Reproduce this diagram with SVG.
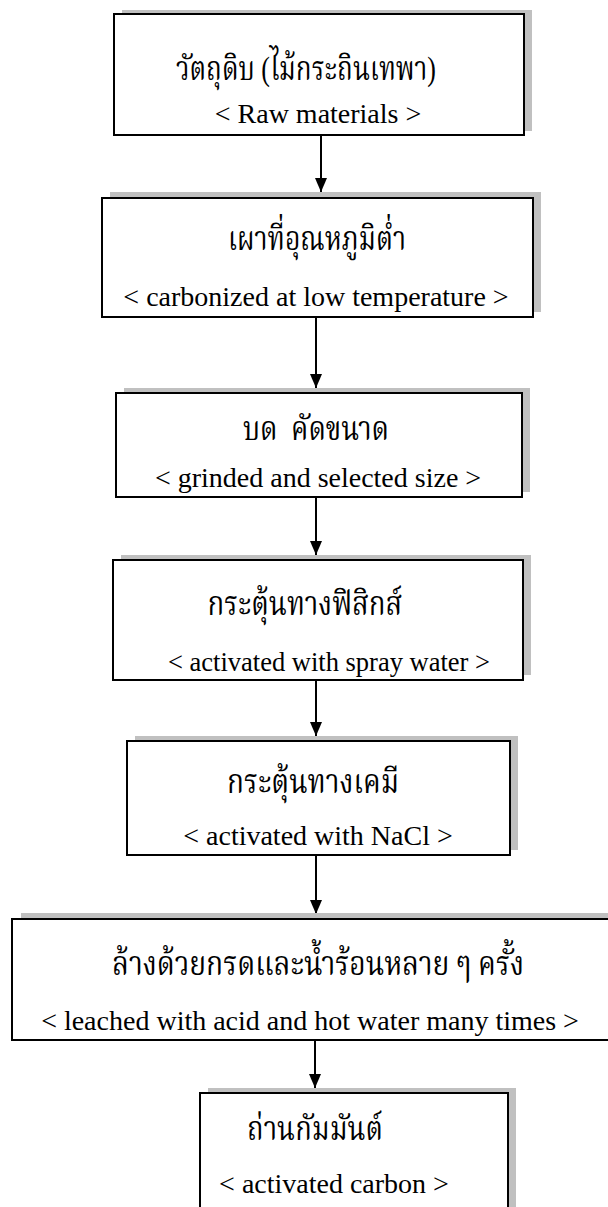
<svg xmlns="http://www.w3.org/2000/svg" width="608" height="1207" viewBox="0 0 608 1207">
<style>
.bg{fill:#ffffff}
.sh{fill:#c0c0c0}
.box{fill:#ffffff;stroke:#000000;stroke-width:2}
.th{font-family:"Liberation Serif","Norasi","Noto Serif Thai","Noto Sans Thai","Tlwg Typo",serif;font-size:34px;fill:#000;text-anchor:middle}
.en{font-family:"Liberation Serif","Times New Roman",serif;font-size:28px;fill:#000;text-anchor:middle}
.ln{stroke:#000;stroke-width:2;fill:none}
</style>
<defs>
<marker id="ah" viewBox="0 0 14 12" refX="14" refY="6" markerWidth="14" markerHeight="12" markerUnits="userSpaceOnUse" orient="auto">
<path d="M0,0 L14,6 L0,12 Z" fill="#000"/>
</marker>
</defs>
<rect class="bg" x="0" y="0" width="608" height="1207"/>

<g id="connectors">
<line class="ln" x1="321" y1="135" x2="321" y2="192" marker-end="url(#ah)"/>
<line class="ln" x1="316" y1="317" x2="316" y2="388" marker-end="url(#ah)"/>
<line class="ln" x1="316" y1="497" x2="316" y2="555" marker-end="url(#ah)"/>
<line class="ln" x1="316" y1="680" x2="316" y2="736" marker-end="url(#ah)"/>
<line class="ln" x1="316" y1="855" x2="316" y2="914" marker-end="url(#ah)"/>
<line class="ln" x1="315" y1="1040" x2="315" y2="1088" marker-end="url(#ah)"/>
</g>

<g id="n1">
<rect class="sh" x="122" y="10" width="410" height="121"/>
<rect class="box" x="114" y="14" width="410" height="121"/>
<text class="th" x="306" y="80" textLength="260" lengthAdjust="spacingAndGlyphs">วัตถุดิบ (ไม้กระถินเทพา)</text>
<text class="en" x="318" y="123">&lt; Raw materials &gt;</text>
</g>

<g id="n2">
<rect class="sh" x="110" y="192" width="431" height="120"/>
<rect class="box" x="102" y="198" width="431" height="119"/>
<text class="th" x="317" y="250" textLength="178" lengthAdjust="spacingAndGlyphs">เผาที่อุณหภูมิต่ำ</text>
<text class="en" x="316" y="306">&lt; carbonized at low temperature &gt;</text>
</g>

<g id="n3">
<rect class="sh" x="124" y="388" width="406" height="104"/>
<rect class="box" x="116" y="393" width="406" height="104"/>
<text class="th" x="316" y="440" xml:space="preserve" textLength="146" lengthAdjust="spacingAndGlyphs">บด  คัดขนาด</text>
<text class="en" x="318" y="487">&lt; grinded and selected size &gt;</text>
</g>

<g id="n4">
<rect class="sh" x="121" y="555" width="410" height="120"/>
<rect class="box" x="113" y="560" width="410" height="120"/>
<text class="th" x="305" y="615" textLength="195" lengthAdjust="spacingAndGlyphs">กระตุ้นทางฟิสิกส์</text>
<text class="en" x="329" y="671" style="font-size:26.5px">&lt; activated with spray water &gt;</text>
</g>

<g id="n5">
<rect class="sh" x="135" y="736" width="383" height="114"/>
<rect class="box" x="127" y="741" width="383" height="114"/>
<text class="th" x="313" y="793" textLength="172" lengthAdjust="spacingAndGlyphs">กระตุ้นทางเคมี</text>
<text class="en" x="318" y="845">&lt; activated with NaCl &gt;</text>
</g>

<g id="n6">
<rect class="sh" x="21" y="913" width="620" height="121"/>
<rect class="box" x="12" y="919" width="620" height="121"/>
<text class="th" x="318" y="975" textLength="412" lengthAdjust="spacingAndGlyphs">ล้างด้วยกรดและน้ำร้อนหลาย ๆ ครั้ง</text>
<text class="en" x="310" y="1030">&lt; leached with acid and hot water many times &gt;</text>
</g>

<g id="n7">
<rect class="sh" x="208" y="1088" width="308" height="140"/>
<rect class="box" x="200" y="1093" width="308" height="140"/>
<text class="th" x="315" y="1140" textLength="136" lengthAdjust="spacingAndGlyphs">ถ่านกัมมันต์</text>
<text class="en" x="334" y="1193">&lt; activated carbon &gt;</text>
</g>
</svg>
